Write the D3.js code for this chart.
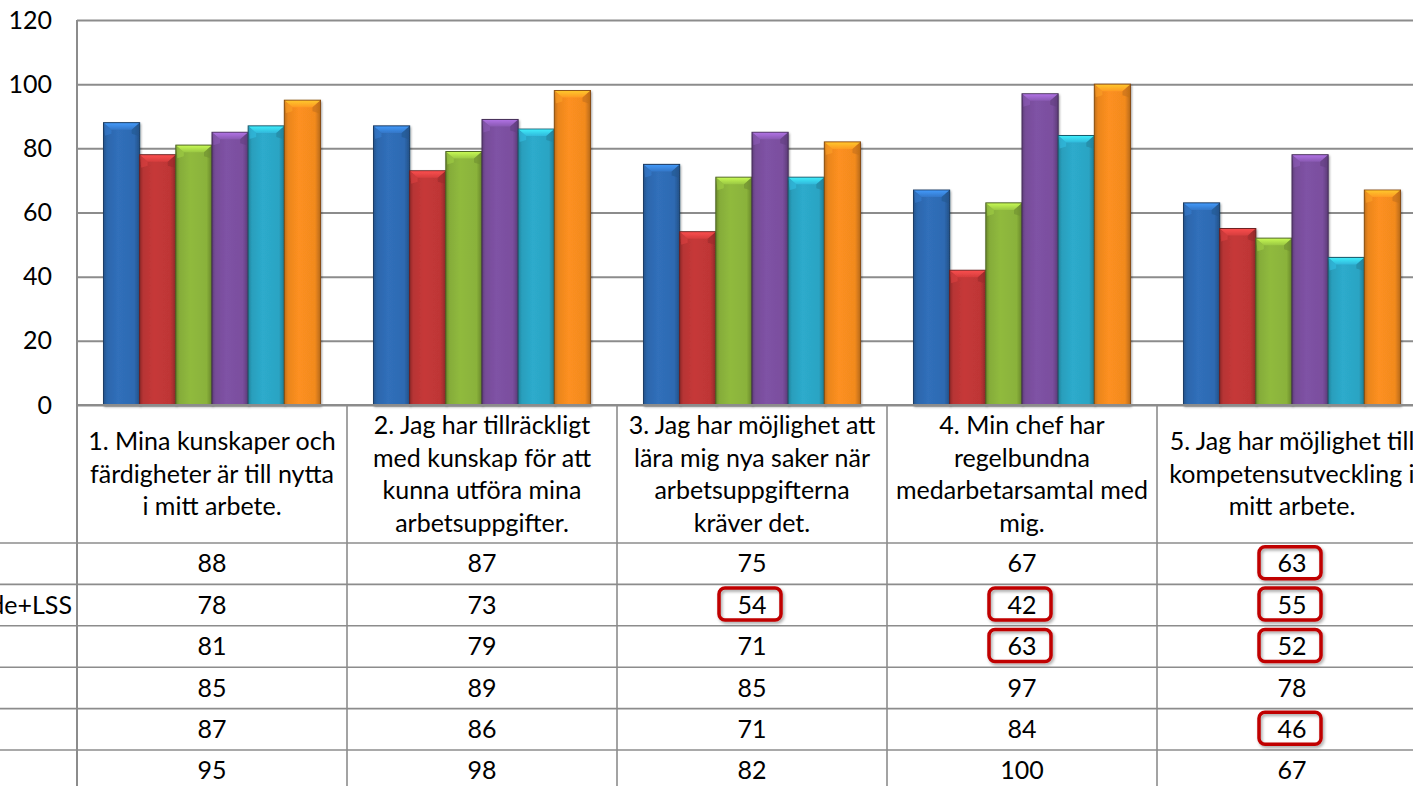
<!DOCTYPE html>
<html><head><meta charset="utf-8">
<script src="https://cdn.jsdelivr.net/npm/d3@7"></script>
<style>
body{margin:0;background:#fff;overflow:hidden;}
svg{display:block;font-family:Lato,"Open Sans",sans-serif;}
</style>
</head><body>
<svg id="chart" width="1413" height="786"></svg>
<script>
// ---------- DATA ----------
const categories = [
  "1. Mina kunskaper och färdigheter är till nytta i mitt arbete.",
  "2. Jag har tillräckligt med kunskap för att kunna utföra mina arbetsuppgifter.",
  "3. Jag har möjlighet att lära mig nya saker när arbetsuppgifterna kräver det.",
  "4. Min chef har regelbundna medarbetarsamtal med mig.",
  "5. Jag har möjlighet till kompetensutveckling i mitt arbete."
];
const categoryLines = [
  ["1. Mina kunskaper och", "färdigheter är till nytta", "i mitt arbete."],
  ["2. Jag har tillräckligt", "med kunskap för att", "kunna utföra mina", "arbetsuppgifter."],
  ["3. Jag har möjlighet att", "lära mig nya saker när", "arbetsuppgifterna", "kräver det."],
  ["4. Min chef har", "regelbundna", "medarbetarsamtal med", "mig."],
  ["5. Jag har möjlighet till", "kompetensutveckling i", "mitt arbete."]
];
const seriesNames = ["Totalt", "Särskilt boende+LSS", "Hemtjänst", "Kök", "Lokalvård", "Ledning"];
const series1 = [88, 87, 75, 67, 63];
const series2 = [78, 73, 54, 42, 55];
const series3 = [81, 79, 71, 63, 52];
const series4 = [85, 89, 85, 97, 78];
const series5 = [87, 86, 71, 84, 46];
const series6 = [95, 98, 82, 100, 67];
const seriesValues = [series1, series2, series3, series4, series5, series6];
const yTicks = [0, 20, 40, 60, 80, 100, 120];
// cells marked with a red box: [series index, category index]
const highlightedCells = [[0,4],[1,2],[1,3],[1,4],[2,3],[2,4],[4,4]];

// ---------- STYLE ----------
const seriesColors = ["#2E6AB2", "#BE3636", "#8AB23B", "#7A4F9E", "#2BA4C3", "#F28A1F"];
const gridColor = "#8C8C8C";
const fontSize = 25;

// ---------- LAYOUT ----------
const plotLeft = 77, plotTop = 20, plotBottom = 405;
const bandW = 270;
const headerBottom = 543;
const rowH = 41.4;
const W = 1413, H = 786;

const svg = d3.select("#chart");
const defs = svg.append("defs");

const x0 = d3.scaleBand().domain(categories).range([plotLeft, plotLeft + bandW * categories.length]).padding(0);
const x1 = d3.scaleBand().domain(d3.range(seriesValues.length)).range([26.5, bandW - 26.5]).padding(0);
const y = d3.scaleLinear().domain([0, 120]).range([plotBottom, plotTop]);

// gradients per series
seriesColors.forEach((c, i) => {
  const base = d3.color(c);
  const g = defs.append("linearGradient").attr("id", "hg" + i).attr("x1", 0).attr("x2", 1).attr("y1", 0).attr("y2", 0);
  g.append("stop").attr("offset", "0%").attr("stop-color", base.darker(0.7));
  g.append("stop").attr("offset", "10%").attr("stop-color", base.darker(0.1));
  g.append("stop").attr("offset", "40%").attr("stop-color", base.brighter(0.12));
  g.append("stop").attr("offset", "85%").attr("stop-color", base);
  g.append("stop").attr("offset", "100%").attr("stop-color", base.darker(0.8));
  const t = defs.append("linearGradient").attr("id", "tg" + i).attr("x1", 0).attr("x2", 0).attr("y1", 0).attr("y2", 1);
  t.append("stop").attr("offset", "0%").attr("stop-color", base.brighter(1.1));
  t.append("stop").attr("offset", "100%").attr("stop-color", base.brighter(0.35));
});
const sh = defs.append("filter").attr("id", "shadow").attr("x", "-20%").attr("y", "-20%").attr("width", "140%").attr("height", "140%");
sh.append("feDropShadow").attr("dx", 1).attr("dy", 1.5).attr("stdDeviation", 1.2).attr("flood-color", "#000").attr("flood-opacity", 0.35);

// gridlines
const yAxis = d3.axisLeft(y).tickValues(yTicks).tickSize(-(W - plotLeft + 20)).tickPadding(25).tickFormat(d3.format("d"));
const gy = svg.append("g").attr("transform", `translate(${plotLeft},0)`).call(yAxis);
gy.select(".domain").remove();
gy.selectAll(".tick line").attr("stroke", gridColor).attr("stroke-width", 2);
gy.selectAll(".tick text").attr("font-size", fontSize).attr("fill", "#000").attr("font-family", "Lato,'Open Sans',sans-serif");

// left axis line
svg.append("line").attr("x1", plotLeft).attr("x2", plotLeft).attr("y1", plotTop).attr("y2", H)
  .attr("stroke", gridColor).attr("stroke-width", 2);

// bars
const bev = 7, bevX = 8;
categories.forEach((cat, ci) => {
  const g = svg.append("g").attr("transform", `translate(${x0(cat)},0)`);
  seriesValues.forEach((vals, si) => {
    const v = vals[ci];
    const bx = x1(si), bw = x1.bandwidth(), by = y(v), bh = y(0) - y(v);
    const bg = g.append("g").attr("filter", "url(#shadow)");
    bg.append("rect").attr("x", bx).attr("y", by).attr("width", bw).attr("height", bh)
      .attr("fill", `url(#hg${si})`).attr("stroke", d3.color(seriesColors[si]).darker(1.6)).attr("stroke-width", 1);
    bg.append("path")
      .attr("d", `M${bx+0.5},${by+0.5} L${bx+bw-0.5},${by+0.5} L${bx+bw-bevX},${by+bev} L${bx+bevX},${by+bev} Z`)
      .attr("fill", `url(#tg${si})`).attr("opacity", 0.9);
    bg.append("path")
      .attr("d", `M${bx+0.5},${by+0.5} L${bx+bevX},${by+bev} L${bx+bevX},${by+bev+4} L${bx+1.5},${by+bev+6} Z`)
      .attr("fill", d3.color(seriesColors[si]).brighter(0.5)).attr("opacity", 0.5);
    bg.append("path")
      .attr("d", `M${bx+bw-0.5},${by+0.5} L${bx+bw-bevX},${by+bev} L${bx+bw-bevX},${by+bev+4} L${bx+bw-1.5},${by+bev+6} Z`)
      .attr("fill", d3.color(seriesColors[si]).darker(0.6)).attr("opacity", 0.6);
  });
});

// ---------- TABLE ----------
const tableRight = W + 20;
const tg = svg.append("g");
// horizontal lines
tg.append("line").attr("x1", plotLeft).attr("x2", tableRight).attr("y1", plotBottom).attr("y2", plotBottom)
  .attr("stroke", gridColor).attr("stroke-width", 2);
for (let r = 0; r <= seriesNames.length; r++) {
  const yy = headerBottom + r * rowH;
  tg.append("line").attr("x1", -10).attr("x2", tableRight).attr("y1", yy).attr("y2", yy)
    .attr("stroke", gridColor).attr("stroke-width", 1.6);
}
// vertical lines
categories.forEach(cat => {
  const xx = x0(cat) + bandW;
  tg.append("line").attr("x1", xx).attr("x2", xx).attr("y1", plotBottom).attr("y2", H)
    .attr("stroke", gridColor).attr("stroke-width", 1.6);
});
// header text
const headerMid = (plotBottom + headerBottom) / 2;
const lineH = 32.5;
categories.forEach((cat, ci) => {
  const lines = categoryLines[ci];
  const cx = x0(cat) + bandW / 2;
  const t = tg.append("text").attr("text-anchor", "middle").attr("font-size", fontSize).attr("fill", "#000");
  lines.forEach((ln, li) => {
    t.append("tspan").attr("x", cx).attr("y", headerMid + (li - (lines.length - 1) / 2) * lineH)
      .attr("dy", "0.35em").text(ln);
  });
});
// row labels (left aligned, mostly off-canvas)
const labelSel = tg.selectAll(".rowlabel").data(seriesNames).enter().append("text")
  .attr("class", "rowlabel").attr("font-size", fontSize).attr("fill", "#000")
  .attr("y", (d, i) => headerBottom + (i + 0.5) * rowH).attr("dy", "0.35em").text(d => d);
let maxW = 0;
labelSel.each(function(){ maxW = Math.max(maxW, this.getComputedTextLength()); });
labelSel.attr("x", 72 - maxW);
// legend keys for rows
tg.selectAll(".rowkey").data(seriesNames).enter().append("rect")
  .attr("x", 72 - maxW - 24).attr("y", (d, i) => headerBottom + (i + 0.5) * rowH - 7)
  .attr("width", 14).attr("height", 14).attr("fill", (d, i) => seriesColors[i]);

// values
seriesValues.forEach((vals, si) => {
  vals.forEach((v, ci) => {
    tg.append("text").attr("x", x0(categories[ci]) + bandW / 2).attr("y", headerBottom + (si + 0.5) * rowH)
      .attr("dy", "0.35em").attr("text-anchor", "middle").attr("font-size", fontSize).attr("fill", "#000").text(v);
  });
});
// highlight boxes
const boxShadow = defs.append("filter").attr("id", "boxshadow").attr("x", "-20%").attr("y", "-30%").attr("width", "140%").attr("height", "160%");
boxShadow.append("feDropShadow").attr("dx", 1.5).attr("dy", 2).attr("stdDeviation", 1.5).attr("flood-color", "#000").attr("flood-opacity", 0.35);
highlightedCells.forEach(([si, ci]) => {
  const cx = x0(categories[ci]) + bandW / 2 - 2;
  const cy = headerBottom + (si + 0.5) * rowH - 1;
  tg.append("rect").attr("x", cx - 31).attr("y", cy - 16).attr("width", 62).attr("height", 32)
    .attr("rx", 6).attr("ry", 6).attr("fill", "none").attr("stroke", "#C00000").attr("stroke-width", 3.5)
    .attr("filter", "url(#boxshadow)");
});
</script>
</body></html>
